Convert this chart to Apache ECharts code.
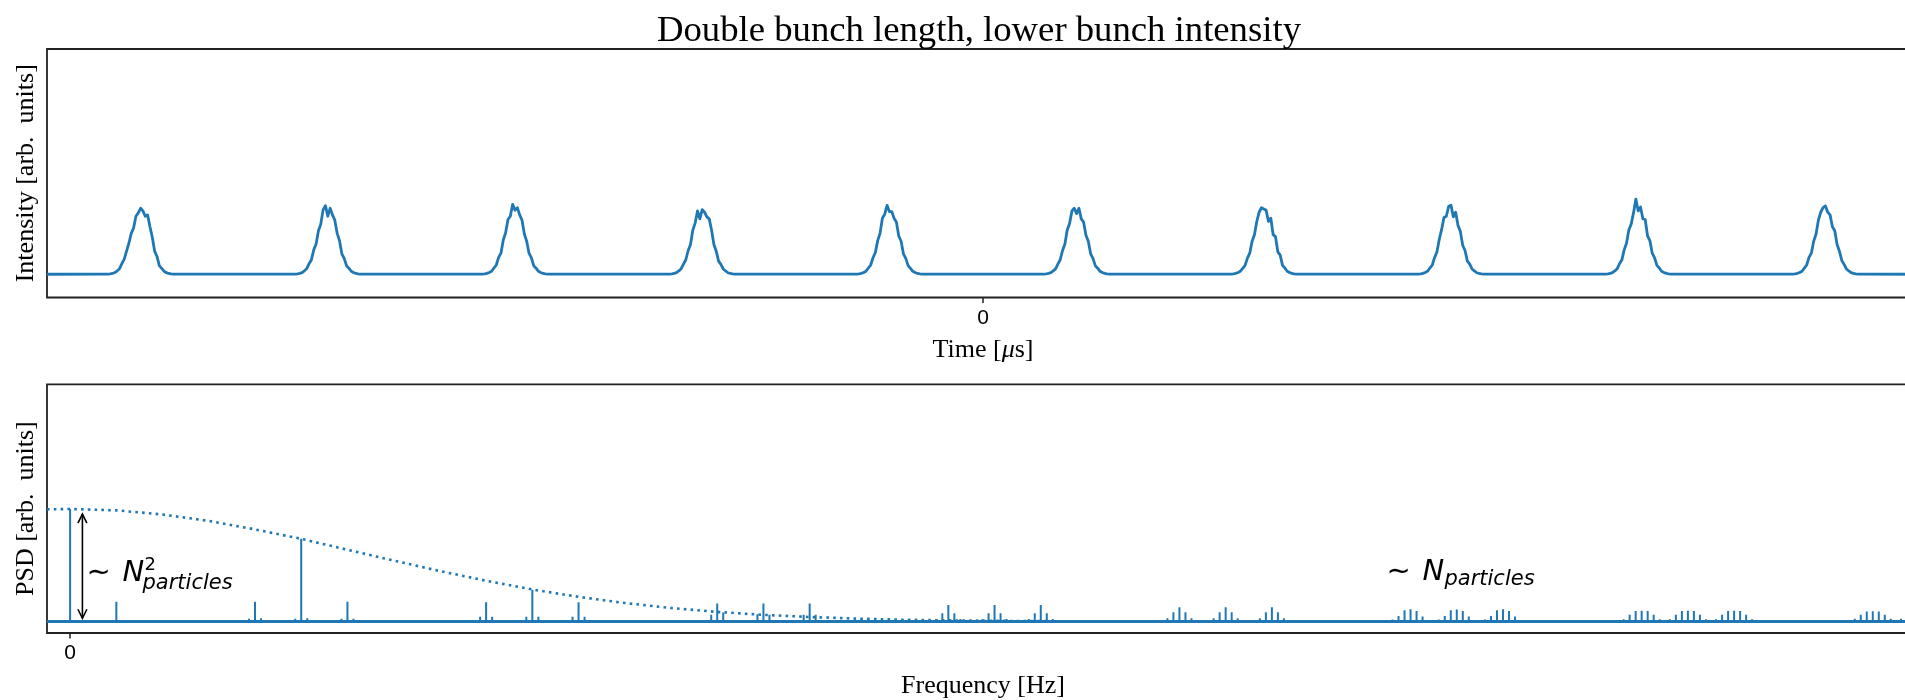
<!DOCTYPE html>
<html>
<head>
<meta charset="utf-8">
<title>Double bunch length, lower bunch intensity</title>
<script src="https://cdn.jsdelivr.net/npm/echarts@6/dist/echarts.min.js"></script>
<style>
  html, body { margin: 0; padding: 0; background: #fff; overflow: hidden; }
  /* the axes run slightly past the right edge of the page */
  #chart { width: 1940px; height: 700px; }
</style>
</head>
<body>
<div id="chart"></div>
<script>
// ---------- Time domain: line density of a train of ten bunches ----------
const bunchCentersUs = [-0.9, -0.7, -0.5, -0.3, -0.1, 0.1, 0.3, 0.5, 0.7, 0.9];
const profileOffsetsUs = [-0.035, -0.0325, -0.03, -0.0275, -0.025, -0.0225, -0.02, -0.0175, -0.015, -0.0125,
  -0.01, -0.0075, -0.005, -0.0025, 0, 0.0025, 0.005, 0.0075, 0.01, 0.0125,
  0.015, 0.0175, 0.02, 0.0225, 0.025, 0.0275, 0.03, 0.0325, 0.035];
const bunch1 = [0.003,0.006,0.012,0.026,0.052,0.085,0.160,0.230,0.350,0.470,0.620,0.700,0.880,0.930,1.000,0.960,0.880,0.900,0.720,0.560,0.350,0.270,0.130,0.090,0.046,0.024,0.012,0.006,0.003];
const bunch2 = [0.003,0.006,0.013,0.025,0.052,0.085,0.160,0.220,0.370,0.460,0.660,0.760,0.980,1.040,0.880,1.000,0.900,0.820,0.620,0.510,0.310,0.240,0.130,0.092,0.046,0.026,0.012,0.006,0.003];
const bunch3 = [0.003,0.006,0.013,0.027,0.046,0.095,0.140,0.255,0.320,0.520,0.630,0.830,0.880,1.060,0.970,1.010,0.900,0.820,0.610,0.500,0.320,0.250,0.130,0.092,0.045,0.027,0.012,0.006,0.003];
const bunch4 = [0.003,0.006,0.013,0.025,0.050,0.084,0.155,0.220,0.360,0.450,0.670,0.780,0.960,0.840,0.980,0.940,0.870,0.840,0.670,0.450,0.350,0.200,0.150,0.080,0.050,0.023,0.012,0.006,0.003];
const bunch5 = [0.003,0.006,0.013,0.027,0.047,0.095,0.140,0.250,0.330,0.510,0.620,0.850,0.910,1.045,0.950,0.950,0.850,0.790,0.580,0.500,0.310,0.240,0.130,0.090,0.045,0.026,0.012,0.006,0.003];
const bunch6 = [0.003,0.006,0.013,0.024,0.051,0.082,0.155,0.220,0.360,0.460,0.670,0.770,0.960,1.000,0.920,1.000,0.840,0.790,0.590,0.500,0.310,0.240,0.130,0.092,0.045,0.026,0.013,0.006,0.003];
const bunch7 = [0.003,0.006,0.013,0.026,0.046,0.090,0.135,0.245,0.320,0.500,0.600,0.800,0.940,1.010,0.990,0.970,0.800,0.850,0.600,0.570,0.340,0.290,0.135,0.095,0.046,0.026,0.013,0.006,0.003];
const bunch8 = [0.003,0.006,0.013,0.027,0.048,0.095,0.140,0.255,0.340,0.530,0.680,0.860,0.880,1.030,1.045,0.870,0.940,0.740,0.650,0.440,0.360,0.200,0.155,0.080,0.050,0.023,0.013,0.006,0.003];
const bunch9 = [0.003,0.006,0.013,0.024,0.050,0.082,0.160,0.215,0.370,0.470,0.670,0.760,0.930,1.140,0.960,1.020,0.840,0.830,0.580,0.510,0.320,0.250,0.135,0.095,0.045,0.027,0.013,0.006,0.003];
const bunch10 = [0.003,0.006,0.013,0.026,0.046,0.092,0.140,0.255,0.320,0.500,0.610,0.820,0.940,1.010,1.035,0.940,0.900,0.720,0.660,0.450,0.350,0.210,0.150,0.080,0.050,0.024,0.013,0.006,0.003];
const bunchProfiles = [bunch1, bunch2, bunch3, bunch4, bunch5, bunch6, bunch7, bunch8, bunch9, bunch10];
const timeRangeUs = [-1.0, 1.0];
const timeTicks = [0];

// ---------- Frequency domain: PSD lines (frequency in revolution harmonics) ----------
const harmonicNumbers = [0, 1, 4, 5, 6, 9, 10, 11, 14, 15, 16, 19, 20, 21, 24, 25, 26, 29, 30, 31, 34, 35, 36, 39, 40];
const harmonicPsd = [1.000, 0.177, 0.177, 0.735, 0.177, 0.172, 0.282, 0.172, 0.162, 0.162, 0.162,
  0.147, 0.147, 0.147, 0.127, 0.127, 0.127, 0.110, 0.108, 0.110, 0.097, 0.097, 0.097, 0.092, 0.092];
// synchrotron sidebands around each line: offsets -3Qs..+3Qs (without 0)
const sidebandOffsets = [-0.39, -0.26, -0.13, 0.13, 0.26, 0.39];
const sidebandPsd = [
  [0, 0, 0, 0, 0, 0],
  [0, 0, 0, 0, 0, 0],
  [0, 0, 0.025, 0.030, 0, 0],
  [0, 0, 0.025, 0.030, 0, 0],
  [0, 0, 0.025, 0.025, 0, 0],
  [0, 0.010, 0.044, 0.044, 0.010, 0],
  [0, 0.010, 0.044, 0.044, 0.010, 0],
  [0, 0.010, 0.044, 0.044, 0.010, 0],
  [0, 0.015, 0.060, 0.080, 0.015, 0],
  [0, 0.015, 0.065, 0.060, 0.015, 0],
  [0, 0.015, 0.060, 0.060, 0.015, 0],
  [0.008, 0.024, 0.074, 0.074, 0.024, 0.008],
  [0.008, 0.024, 0.074, 0.074, 0.024, 0.008],
  [0.008, 0.024, 0.074, 0.074, 0.024, 0.008],
  [0.012, 0.030, 0.083, 0.083, 0.030, 0.012],
  [0.012, 0.030, 0.083, 0.083, 0.030, 0.012],
  [0.012, 0.030, 0.083, 0.083, 0.030, 0.012],
  [0.018, 0.050, 0.100, 0.095, 0.045, 0.015],
  [0.018, 0.050, 0.100, 0.095, 0.045, 0.015],
  [0.018, 0.050, 0.100, 0.095, 0.045, 0.015],
  [0.020, 0.060, 0.095, 0.095, 0.060, 0.020],
  [0.020, 0.060, 0.095, 0.095, 0.060, 0.020],
  [0.020, 0.060, 0.095, 0.095, 0.060, 0.020],
  [0.025, 0.060, 0.090, 0.090, 0.060, 0.025],
  [0.025, 0.060, 0.090, 0.090, 0.060, 0.025]
];
// coherent envelope (bunch form factor)
const envelopeFreqs = [-0.5, 0, 1, 2, 3, 4, 5, 6, 7, 8, 9, 10, 11, 12, 13, 14, 15, 16, 17, 18, 19, 20, 22, 24, 27, 30, 35, 40];
const envelopePsd = [0.997, 1.000, 0.988, 0.951, 0.894, 0.819, 0.735, 0.638, 0.542, 0.449, 0.363, 0.285, 0.220, 0.165,
  0.121, 0.086, 0.060, 0.041, 0.027, 0.017, 0.011, 0.007, 0.002, 0.001, 0, 0, 0, 0];
const freqRange = [-0.5, 40];
const freqTicks = [0];

// annotation anchors [frequency, psd]
const coherentArrow = [0.266, 0.03, 0.955];
const coherentLabelAnchor = [0.376, 0.338];
const incoherentLabelAnchor = [28.5, 0.353];

// ---------- build series data ----------
const BLUE = '#1f77b4';
const signalData = [[timeRangeUs[0], 0]];
bunchCentersUs.forEach((c, i) => {
  profileOffsetsUs.forEach((o, j) => signalData.push([+(c + o).toFixed(5), bunchProfiles[i][j]]));
});
signalData.push([timeRangeUs[1], 0]);

const stemData = [];
harmonicNumbers.forEach((h, i) => {
  stemData.push([h, harmonicPsd[i]]);
  sidebandOffsets.forEach((d, j) => {
    const v = sidebandPsd[i][j];
    if (v > 0) stemData.push([+(h + d).toFixed(3), v]);
  });
});
const envelopeData = envelopeFreqs.map((f, i) => [f, envelopePsd[i]]);

const SERIF = "Liberation Serif";
const SANS = "DejaVu Sans";
const TICK_FONT = "Liberation Sans";

// text placed by its alphabetic baseline
function baselineText(str, x, baseY, size, italic) {
  return {
    type: 'text', x: x, y: baseY - 0.34 * size,
    style: {
      text: str, fontSize: size, fontFamily: SANS, fontStyle: italic ? 'italic' : 'normal',
      fill: '#000', align: 'left', verticalAlign: 'middle'
    }
  };
}

function tickFormatter(ticks) {
  return function (v) {
    return ticks.some(t => Math.abs(t - v) < 1e-9) ? String(v) : '';
  };
}

const nameStyle = {
  fontFamily: SERIF, fontSize: 26, color: '#000',
  rich: { it: { fontFamily: SERIF, fontSize: 26, fontStyle: 'italic', color: '#000' } }
};

const chart = echarts.init(document.getElementById('chart'), null, { renderer: 'canvas' });
const option = {
  animation: false,
  backgroundColor: '#fff',
  title: {
    text: 'Double bunch length, lower bunch intensity',
    left: 974, top: 8, textAlign: 'center',
    textStyle: { fontFamily: SERIF, fontSize: 36.7, fontWeight: 'normal', color: '#000' }
  },
  grid: [
    { left: 47, top: 49, width: 1872, height: 248.5, show: true, borderColor: '#222', borderWidth: 1.8, containLabel: false },
    { left: 47, top: 384.3, width: 1872, height: 250.7, show: true, borderColor: '#222', borderWidth: 1.8, containLabel: false }
  ],
  xAxis: [
    {
      type: 'value', gridIndex: 0, min: timeRangeUs[0], max: timeRangeUs[1], interval: 1,
      axisLine: { show: false, onZero: false },
      axisTick: { show: true, length: 5.5, customValues: timeTicks, lineStyle: { color: '#222', width: 1.5 } },
      axisLabel: { show: true, formatter: tickFormatter(timeTicks), margin: 10, fontFamily: TICK_FONT, fontSize: 21, color: '#000' },
      splitLine: { show: false },
      name: 'Time [{it|μ}s]', nameLocation: 'middle', nameGap: 40,
      nameTextStyle: nameStyle
    },
    {
      type: 'value', gridIndex: 1, min: freqRange[0], max: freqRange[1], interval: 0.5,
      axisLine: { show: false, onZero: false },
      axisTick: { show: true, length: 5.5, customValues: freqTicks, lineStyle: { color: '#222', width: 1.5 } },
      axisLabel: { show: true, formatter: tickFormatter(freqTicks), margin: 10, fontFamily: TICK_FONT, fontSize: 21, color: '#000' },
      splitLine: { show: false },
      name: 'Frequency [Hz]', nameLocation: 'middle', nameGap: 40,
      nameTextStyle: nameStyle
    }
  ],
  yAxis: [
    {
      type: 'value', gridIndex: 0, min: -0.352, max: 3.414,
      axisLine: { show: false, onZero: false }, axisTick: { show: false }, axisLabel: { show: false }, splitLine: { show: false },
      name: 'Intensity [arb.  units]', nameLocation: 'middle', nameGap: 8,
      nameTextStyle: nameStyle
    },
    {
      type: 'value', gridIndex: 1, min: -0.101, max: 2.107,
      axisLine: { show: false, onZero: false }, axisTick: { show: false }, axisLabel: { show: false }, splitLine: { show: false },
      name: 'PSD [arb.  units]', nameLocation: 'middle', nameGap: 8,
      nameTextStyle: nameStyle
    }
  ],
  series: [
    {
      name: 'Intensity', type: 'line', xAxisIndex: 0, yAxisIndex: 0,
      data: signalData, showSymbol: false, symbol: 'none', clip: true,
      lineStyle: { color: BLUE, width: 2.8, join: 'round' }
    },
    {
      name: 'Envelope', type: 'line', xAxisIndex: 1, yAxisIndex: 1,
      data: envelopeData, showSymbol: false, symbol: 'none', smooth: false, clip: true,
      lineStyle: { color: BLUE, width: 2.6, type: [2.6, 4.2], cap: 'butt' }
    },
    {
      name: 'PSD', type: 'custom', xAxisIndex: 1, yAxisIndex: 1, clip: true,
      data: stemData,
      renderItem: function (params, api) {
        const p0 = api.coord([api.value(0), 0]);
        const p1 = api.coord([api.value(0), api.value(1)]);
        return {
          type: 'line',
          shape: { x1: p0[0], y1: p0[1], x2: p1[0], y2: p1[1] },
          style: { stroke: BLUE, lineWidth: 2 }
        };
      }
    },
    {
      name: 'Baseline', type: 'line', xAxisIndex: 1, yAxisIndex: 1,
      data: [[freqRange[0], 0], [freqRange[1], 0]], showSymbol: false, symbol: 'none',
      lineStyle: { color: BLUE, width: 3 }
    },
    {
      name: 'Arrow', type: 'custom', xAxisIndex: 1, yAxisIndex: 1,
      data: [coherentArrow],
      renderItem: function (params, api) {
        const top = api.coord([api.value(0), api.value(2)]);
        const bot = api.coord([api.value(0), api.value(1)]);
        const hw = 4.5, hl = 9;
        const s = { stroke: '#000', lineWidth: 1.6, fill: null };
        return {
          type: 'group',
          children: [
            { type: 'line', shape: { x1: top[0], y1: top[1], x2: bot[0], y2: bot[1] }, style: s },
            { type: 'polyline', shape: { points: [[top[0] - hw, top[1] + hl], [top[0], top[1]], [top[0] + hw, top[1] + hl]] }, style: s },
            { type: 'polyline', shape: { points: [[bot[0] - hw, bot[1] - hl], [bot[0], bot[1]], [bot[0] + hw, bot[1] - hl]] }, style: s }
          ]
        };
      }
    },
    {
      name: 'Labels', type: 'custom', xAxisIndex: 1, yAxisIndex: 1,
      data: [[coherentLabelAnchor[0], coherentLabelAnchor[1], 0], [incoherentLabelAnchor[0], incoherentLabelAnchor[1], 1]],
      renderItem: function (params, api) {
        const p = api.coord([api.value(0), api.value(1)]);
        const x = p[0], y = p[1];
        const children = [
          baselineText('∼', x - 1, y, 29, false),
          baselineText('N', x + 35, y, 29, true)
        ];
        if (api.value(2) === 0) {
          children.push(baselineText('2', x + 57, y - 12, 18, false));
          children.push(baselineText('particles', x + 55, y + 6.7, 21, true));
        } else {
          children.push(baselineText('particles', x + 57, y + 5, 21, true));
        }
        return { type: 'group', children: children };
      }
    }
  ]
};
chart.setOption(option);
</script>
</body>
</html>
